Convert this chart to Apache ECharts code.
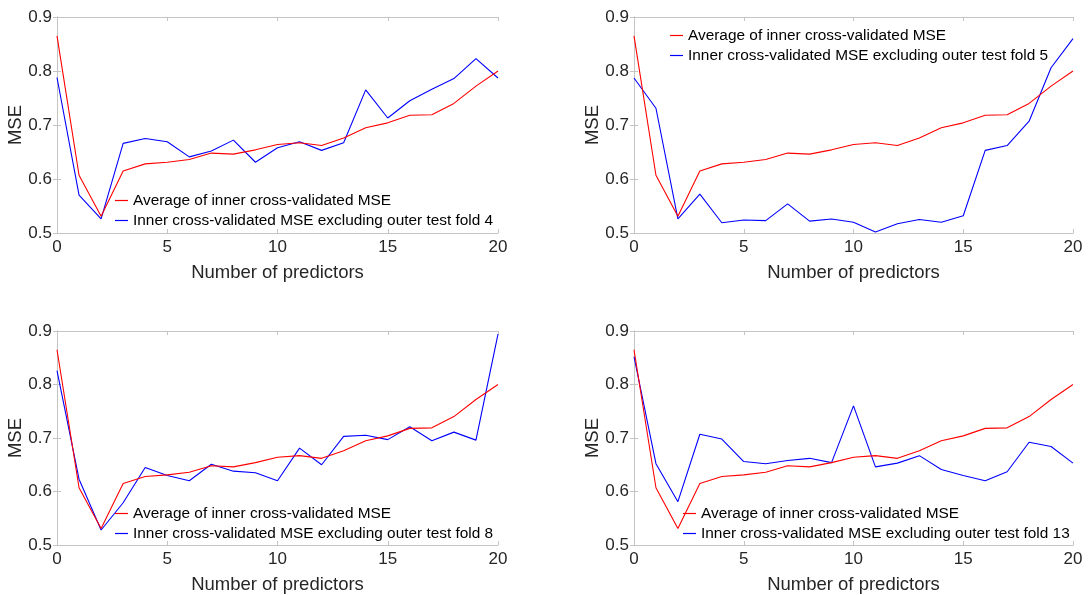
<!DOCTYPE html>
<html><head><meta charset="utf-8">
<script src="https://cdn.jsdelivr.net/npm/echarts@6/dist/echarts.min.js"></script>
<style>html,body{margin:0;padding:0;background:#fff}#c{width:1088px;height:595px}</style>
</head><body><div id="c"></div>
<script>
const predictors = [0,1,2,3,4,5,6,7,8,9,10,11,12,13,14,15,16,17,18,19,20];
const xTicks = [0,5,10,15,20];
const yTicks = [0.5,0.6,0.7,0.8,0.9];
const avgName = 'Average of inner cross-validated MSE';
const avgMSE = [0.865,0.607,0.531,0.615,0.628,0.631,0.636,0.648,0.646,0.654,0.664,0.667,0.662,0.676,0.695,0.704,0.718,0.719,0.740,0.772,0.800];
const fold4 = [0.788,0.570,0.526,0.666,0.675,0.669,0.641,0.652,0.672,0.631,0.658,0.669,0.653,0.667,0.765,0.713,0.745,0.766,0.786,0.823,0.787];
const fold5 = [0.787,0.731,0.526,0.572,0.519,0.524,0.523,0.554,0.522,0.526,0.520,0.502,0.517,0.525,0.520,0.532,0.653,0.662,0.707,0.806,0.860];
const fold8 = [0.826,0.623,0.528,0.579,0.645,0.630,0.620,0.651,0.638,0.635,0.620,0.681,0.650,0.703,0.705,0.697,0.721,0.695,0.711,0.696,0.894];
const fold13 = [0.852,0.652,0.581,0.707,0.698,0.656,0.652,0.658,0.662,0.654,0.760,0.646,0.653,0.667,0.641,0.630,0.620,0.637,0.692,0.684,0.653];
const foldNums = [4,5,8,13];
const foldData = [fold4, fold5, fold8, fold13];

const FONT = "'Liberation Sans', Arial, sans-serif";
const AX = '#c4c4c4';
const TXT = '#262626';
const grids = [
  {left:57, top:17, width:441, height:216},
  {left:634, top:17, width:439, height:216},
  {left:57, top:331, width:441, height:215},
  {left:634, top:331, width:439, height:215}
];
const legendPos = [
  {left:115, top:192},
  {left:670, top:27},
  {left:115, top:505},
  {left:683, top:505}
];

const xAxes = [], yAxes = [], series = [], legends = [];
grids.forEach((g, i) => {
  xAxes.push({
    type:'value', gridIndex:i, position:'bottom', min:xTicks[0], max:xTicks[xTicks.length-1], interval:5,
    axisLine:{show:true, lineStyle:{color:AX, width:1}},
    axisTick:{show:true, inside:true, length:4, lineStyle:{color:AX}},
    axisLabel:{show:true, color:TXT, fontSize:17, fontFamily:FONT, margin:6},
    splitLine:{show:false},
    name:'Number of predictors', nameLocation:'middle', nameGap:30, nameMoveOverlap:false,
    nameTextStyle:{color:TXT, fontSize:18.5, fontFamily:FONT}
  });
  xAxes.push({
    type:'value', gridIndex:i, position:'top', min:0, max:20, interval:5,
    axisLine:{show:true, lineStyle:{color:AX, width:1}},
    axisTick:{show:true, inside:true, length:4, lineStyle:{color:AX}},
    axisLabel:{show:false}, splitLine:{show:false}
  });
  yAxes.push({
    type:'value', gridIndex:i, position:'left', min:yTicks[0], max:yTicks[yTicks.length-1], interval:0.1,
    axisLine:{show:true, lineStyle:{color:AX, width:1}},
    axisTick:{show:true, inside:true, length:4, lineStyle:{color:AX}},
    axisLabel:{show:true, color:TXT, fontSize:17, fontFamily:FONT, margin:5, formatter:v=>v.toFixed(1)},
    splitLine:{show:false},
    name:'MSE', nameLocation:'middle', nameGap:32, nameRotate:90, nameMoveOverlap:false,
    nameTextStyle:{color:TXT, fontSize:18.5, fontFamily:FONT}
  });
  yAxes.push({
    type:'value', gridIndex:i, position:'right', min:0.5, max:0.9, interval:0.1,
    axisLine:{show:true, lineStyle:{color:AX, width:1}},
    axisTick:{show:true, inside:true, length:4, lineStyle:{color:AX}},
    axisLabel:{show:false}, splitLine:{show:false}
  });
  const blueName = 'Inner cross-validated MSE excluding outer test fold ' + foldNums[i];
  series.push({
    name:avgName, type:'line', xAxisIndex:2*i, yAxisIndex:2*i, symbol:'none',
    lineStyle:{color:'#ff0000', width:1.1}, itemStyle:{color:'#ff0000'},
    data: predictors.map((p,k)=>[p, avgMSE[k]]), z:3
  });
  series.push({
    name:blueName, type:'line', xAxisIndex:2*i, yAxisIndex:2*i, symbol:'none',
    lineStyle:{color:'#0000ff', width:1.1}, itemStyle:{color:'#0000ff'},
    data: predictors.map((p,k)=>[p, foldData[i][k]]), z:2
  });
  legends.push({
    left:legendPos[i].left, top:legendPos[i].top, orient:'vertical',
    data:[{name:avgName, icon:'rect', itemStyle:{color:'#ff0000'}},
          {name:blueName, icon:'rect', itemStyle:{color:'#0000ff'}}],
    itemWidth:13, itemHeight:1.2, itemGap:3,
    selectedMode:false, padding:0,
    textStyle:{color:'#000', fontSize:15.4, fontFamily:FONT, lineHeight:17}
  });
});

const chart = echarts.init(document.getElementById('c'), null, {renderer:'canvas'});
chart.setOption({
  backgroundColor:'#fff',
  animation:false,
  grid: grids.map(g=>Object.assign({containLabel:false}, g)),
  xAxis: xAxes, yAxis: yAxes, series: series, legend: legends
});
</script></body></html>
